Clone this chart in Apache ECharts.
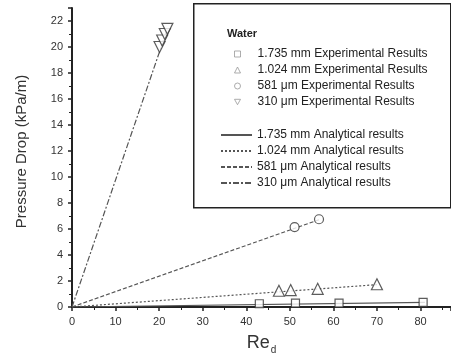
<!DOCTYPE html>
<html>
<head>
<meta charset="utf-8">
<script src="https://cdn.jsdelivr.net/npm/echarts@6/dist/echarts.min.js"></script>
<style>
  html, body { margin: 0; padding: 0; background: #fff; }
  #main { width: 451px; height: 364px; }
</style>
</head>
<body>
<div id="main"></div>
<script>
// experimental points: [Re_d, dP (kPa/m)]
var exp1735 = [[43, 0.25], [51.3, 0.3], [61.3, 0.3], [80.6, 0.35]];
var exp1024 = [[47.5, 1.25], [50.2, 1.3], [56.4, 1.4], [70, 1.75]];
var exp581 = [[51.1, 6.15], [56.7, 6.75]];
var exp310 = [[20.1, 20.0], [20.7, 20.5], [21.3, 21.0], [21.9, 21.4]];

// analytical lines (start, end)
var ana1735 = [[0, 0], [81, 0.35]];
var ana1024 = [[0, 0], [70, 1.72]];
var ana581 = [[0, 0], [57, 6.75]];
var ana310 = [[0, 0], [22, 21.5]];

var expNames = ['1.735 mm Experimental Results', '1.024 mm Experimental Results',
                '581 \u03bcm Experimental Results', '310 \u03bcm Experimental Results'];
var anaNames = ['1.735 mm Analytical results', '1.024 mm Analytical results',
                '581 \u03bcm Analytical results', '310 \u03bcm Analytical results'];

var font = 'Liberation Sans, Arial, sans-serif';
var ink = '#333';

function scatter(name, data, symbol, size, rotate) {
    return {
        name: name,
        type: 'scatter',
        data: data,
        symbol: symbol,
        symbolSize: size,
        symbolRotate: rotate || 0,
        itemStyle: { color: '#fff', borderColor: '#333', borderWidth: 1.2 },
        z: 5
    };
}
function line(name, data, dash) {
    return {
        name: name,
        type: 'line',
        data: data,
        symbol: 'none',
        color: '#555',
        lineStyle: { color: '#555', width: 1.2, type: dash },
        z: 3
    };
}

var option = {
    backgroundColor: '#fff',
    animation: false,
    grid: { left: 72, right: 0, top: 8, bottom: 57 },
    xAxis: {
        type: 'value',
        min: 0,
        max: 87,
        interval: 10,
        name: '{a|Re}{b|d}',
        nameLocation: 'middle',
        nameGap: 24,
        nameTextStyle: {
            rich: {
                a: { fontSize: 18, fontFamily: font, color: ink },
                b: { fontSize: 10, fontFamily: font, color: ink, padding: [14, 0, 0, 1] }
            }
        },
        axisLine: { lineStyle: { color: '#222', width: 2 } },
        axisTick: { inside: false, length: 4, lineStyle: { color: '#222', width: 1.5 } },
        minorTick: { show: true, splitNumber: 2, length: 3, lineStyle: { color: '#222' } },
        axisLabel: { showMaxLabel: false, margin: 9, fontSize: 11, fontFamily: font, color: ink },
        splitLine: { show: false }
    },
    yAxis: {
        type: 'value',
        min: 0,
        max: 23,
        interval: 2,
        name: 'Pressure Drop (kPa/m)',
        nameLocation: 'middle',
        nameGap: 43,
        nameTextStyle: { fontSize: 15, fontFamily: font, color: ink, padding: [0, 0, 0, 12] },
        axisLine: { lineStyle: { color: '#222', width: 2 } },
        axisTick: { inside: false, length: 4, lineStyle: { color: '#222', width: 1.5 } },
        minorTick: { show: true, splitNumber: 2, length: 3, lineStyle: { color: '#222' } },
        axisLabel: { showMaxLabel: false, margin: 9, fontSize: 11, fontFamily: font, color: ink },
        splitLine: { show: false }
    },
    legend: [{
        data: [
            expNames[0], expNames[1], expNames[2],
            { name: expNames[3], icon: 'path://M0,0 L10,0 L5,9 Z' }
        ],
        orient: 'vertical',
        left: 229,
        top: 42,
        itemWidth: 6,
        itemHeight: 6,
        itemGap: 2,
        itemStyle: { borderColor: '#999', borderWidth: 1 },
        textStyle: { fontSize: 12, fontFamily: font, color: '#222', lineHeight: 14, padding: [0, 0, 0, 12] }
    }, {
        data: anaNames,
        orient: 'vertical',
        left: 215,
        top: 123,
        itemWidth: 31,
        itemHeight: 10,
        itemGap: 2,
        itemStyle: { opacity: 0 },
        textStyle: { fontSize: 12, fontFamily: font, color: '#222', lineHeight: 14 }
    }],
    graphic: [{
        type: 'rect',
        left: 193,
        top: 3,
        shape: { width: 257, height: 204 },
        style: { fill: '#fff', stroke: '#222', lineWidth: 1.5 },
        z: 1
    }, {
        type: 'text',
        left: 227,
        top: 28,
        style: { text: 'Water', font: 'bold 11px ' + font, fill: '#222' },
        z: 2
    }],
    series: [
        scatter(expNames[0], exp1735, 'rect', 8),
        scatter(expNames[1], exp1024, 'triangle', 11),
        scatter(expNames[2], exp581, 'circle', 9),
        scatter(expNames[3], exp310, 'triangle', 11, 180),
        line(anaNames[0], ana1735, 'solid'),
        line(anaNames[1], ana1024, [2, 2]),
        line(anaNames[2], ana581, [4, 2]),
        line(anaNames[3], ana310, [6, 2, 2, 2])
    ]
};

echarts.init(document.getElementById('main')).setOption(option);
</script>
</body>
</html>
